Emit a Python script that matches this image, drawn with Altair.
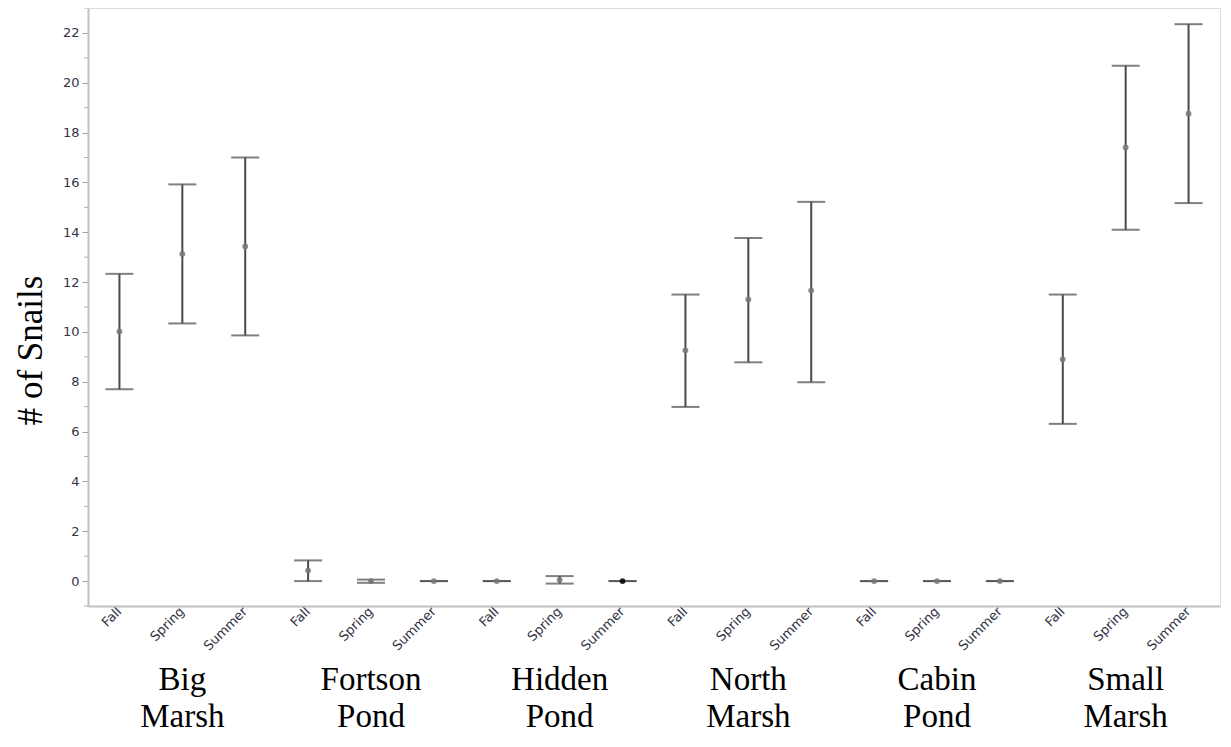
import altair as alt
import pandas as pd

groups = ["Big Marsh", "Fortson Pond", "Hidden Pond", "North Marsh", "Cabin Pond", "Small Marsh"]
seasons = ["Fall", "Spring", "Summer"]

# mean, lower, upper per group x season
means = [10.02, 13.13, 13.43,
         0.42, 0.0, 0.0,
         0.0, 0.05, 0.0,
         9.26, 11.30, 11.66,
         0.0, 0.0, 0.0,
         8.90, 17.40, 18.76]
lowers = [7.70, 10.34, 9.86,
          0.0, -0.07, 0.0,
          0.0, -0.10, 0.0,
          6.99, 8.78, 7.98,
          0.0, 0.0, 0.0,
          6.31, 14.10, 15.17]
uppers = [12.33, 15.92, 17.00,
          0.83, 0.06, 0.0,
          0.0, 0.20, 0.0,
          11.50, 13.77, 15.22,
          0.0, 0.0, 0.0,
          11.50, 20.68, 22.35]

y_ticks = [0, 2, 4, 6, 8, 10, 12, 14, 16, 18, 20, 22]
y_minor = [-1, 1, 3, 5, 7, 9, 11, 13, 15, 17, 19, 21, 23]
group_labels = ["Big\nMarsh", "Fortson\nPond", "Hidden\nPond", "North\nMarsh", "Cabin\nPond", "Small\nMarsh"]

keys = [f"{g}|{s}" for g in groups for s in seasons]
df = pd.DataFrame({
    "key": keys,
    "group": [g for g in groups for s in seasons],
    "season": [s for g in groups for s in seasons],
    "mean": means, "lo": lowers, "hi": uppers,
})
glab = pd.DataFrame({"key": [f"{g}|Spring" for g in groups], "label": group_labels})
minor = pd.DataFrame({"v": y_minor})

W, H = 1132, 598

xscale = alt.Scale(domain=keys, paddingInner=0, paddingOuter=0)
yscale = alt.Scale(domain=[-1, 23], nice=False, zero=False)

xaxis = alt.Axis(
    title=None, labelExpr="split(datum.value, '|')[1]", labelAngle=-45,
    labelAlign="right", labelBaseline="middle", labelPadding=3, ticks=False,
    labelFont="DejaVu Sans", labelFontSize=13, labelColor="#333344",
    domainColor="#c0c0c0", domainWidth=2, grid=False,
)
yaxis = alt.Axis(
    values=y_ticks, title="# of Snails", titleFont="Liberation Serif", titleFontSize=35,
    titleFontWeight="normal", titleColor="#000000", titleAngle=270, titleX=-58, titleY=342,
    titleAlign="center", titleBaseline="middle",
    labelFont="DejaVu Sans", labelFontSize=13, labelColor="#333344", labelPadding=3,
    tickSize=6, tickColor="#a0a0a0", domainColor="#c0c0c0", domainWidth=2, grid=False,
)

base = alt.Chart(df)
x_enc = alt.X("key:N", scale=xscale, axis=xaxis, sort=keys)

bars = base.mark_rule(color="#4a4a4a", strokeWidth=2).encode(
    x=x_enc, y=alt.Y("lo:Q", scale=yscale, axis=yaxis), y2="hi:Q"
)
cap_hi = base.mark_tick(color="#4a4a4a", size=28, thickness=2).encode(
    x=alt.X("key:N", sort=keys), y="hi:Q"
)
cap_lo = base.mark_tick(color="#4a4a4a", size=28, thickness=2).encode(
    x=alt.X("key:N", sort=keys), y="lo:Q"
)
dots = base.mark_circle(size=34, opacity=0.85).encode(
    x=alt.X("key:N", sort=keys), y="mean:Q",
    color=alt.condition(alt.datum.key == "Hidden Pond|Summer", alt.value("#000000"), alt.value("#777777")),
)
minor_ticks = alt.Chart(minor).mark_rule(color="#b0b0b0", strokeWidth=1).encode(
    y="v:Q", x=alt.value(-4), x2=alt.value(0)
)
labels = alt.Chart(glab).mark_text(
    font="Liberation Serif", fontSize=33, lineBreak="\n", lineHeight=37,
    align="center", baseline="alphabetic", color="#000000",
).encode(x=alt.X("key:N", sort=keys), y=alt.value(682), text="label:N")

chart = alt.layer(bars, cap_hi, cap_lo, dots, minor_ticks, labels).properties(
    width=W, height=H,
    autosize=alt.AutoSizeParams(type="none"),
    padding={"left": 80, "top": 0, "right": 2, "bottom": 131},
).configure_view(stroke="#c0c0c0", strokeWidth=2).configure(background="white")

chart.save("out.html", embed_options={"renderer": "svg", "actions": False})
